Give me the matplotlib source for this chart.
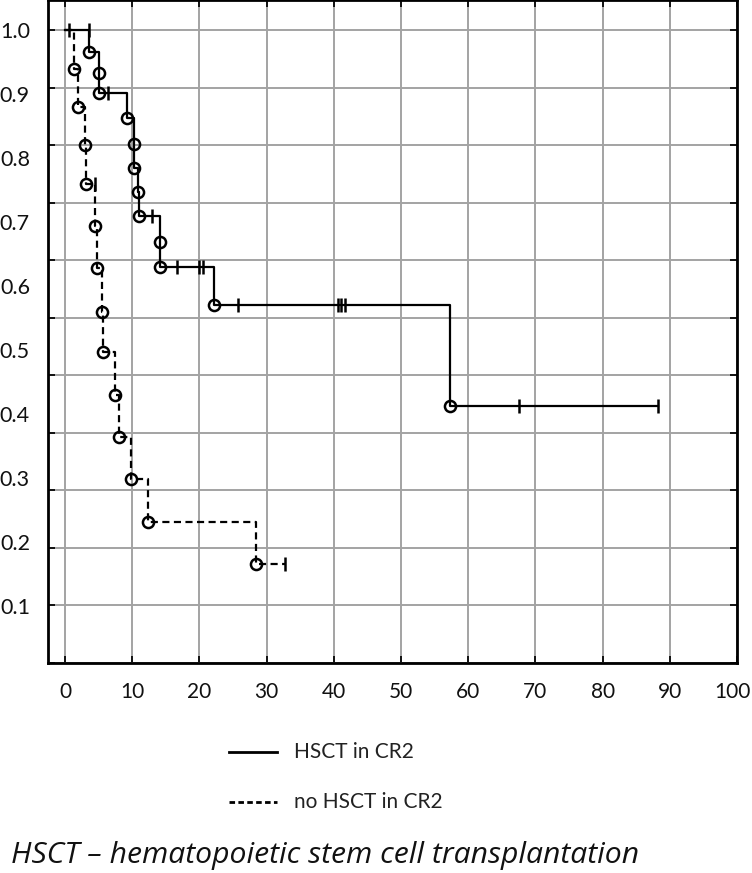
import matplotlib
matplotlib.use("Agg")
import matplotlib.pyplot as plt
from matplotlib.transforms import ScaledTranslation
import numpy as np

plt.rcParams['font.family'] = ['Lato', 'DejaVu Sans']

# HSCT in CR2 (solid): event times / survival after each event
hsct_t = [0, 3.6, 5.0, 5.0, 9.2, 10.2, 10.2, 10.8, 11.0, 14.1, 14.1, 22.1, 57.3]
hsct_s = [1.0, 0.965, 0.933, 0.901, 0.862, 0.822, 0.784, 0.747, 0.709, 0.669, 0.629, 0.570, 0.4125]
hsct_cens_t = [3.6, 6.4, 13.0, 16.6, 20.0, 20.5, 25.7, 40.6, 41.0, 41.7, 67.5, 88.3]
hsct_cens_s = [1.0, 0.901, 0.709, 0.629, 0.629, 0.629, 0.570, 0.570, 0.570, 0.570, 0.4125, 0.4125]

# no HSCT in CR2 (dashed)
no_t = [0, 1.4, 1.9, 3.0, 3.1, 4.5, 4.7, 5.5, 5.7, 7.5, 8.1, 9.8, 12.3, 28.4]
no_s = [1.0, 0.939, 0.879, 0.821, 0.759, 0.694, 0.628, 0.560, 0.497, 0.430, 0.364, 0.298, 0.232, 0.165]
no_cens_t = [0.6, 4.4, 32.7]
no_cens_s = [1.0, 0.759, 0.165]

xticks = [0, 10, 20, 30, 40, 50, 60, 70, 80, 90, 100]
ylabels = [0.1, 0.2, 0.3, 0.4, 0.5, 0.6, 0.7, 0.8, 0.9, 1.0]

fig = plt.figure(figsize=(7.52, 8.73), dpi=100)
ax = fig.add_axes([48 / 752, 1 - 663 / 873, 689 / 752, 663 / 873])

ymin, ymax = 0.0109, 1.0469
ax.set_xlim(-2.53, 100)
ax.set_ylim(ymin, ymax)

lw = 1.6
curves = [
    (hsct_t, hsct_s, hsct_cens_t, hsct_cens_s, '-', 'HSCT in CR2'),
    (no_t, no_s, no_cens_t, no_cens_s, '--', 'no HSCT in CR2'),
]
handles = []
for t, s, ct, cs, ls, lab in curves:
    tt = list(t) + [max(ct)]
    ss = list(s) + [s[-1]]
    line, = ax.step(tt, ss, where='post', color='black', lw=lw, ls=ls, zorder=3)
    if ls == '--':
        line.set_dashes((3.2, 2.0))
    ax.plot(t[1:], s[1:], 'o', ms=8, mfc='none', mec='black', mew=1.8, zorder=4)
    ax.plot(ct, cs, '|', ms=10, mec='black', mew=1.8, zorder=4)
    handles.append((line, lab))

# grid (11 equal divisions vertically, 10-unit steps horizontally)
ax.yaxis.remove_overlapping_locs = False
ax.set_xticks(xticks)
ax.set_yticks(np.linspace(ymin, 1.0, 12))
ax.set_yticklabels([])
ax.set_yticks(ylabels, minor=True)
ax.set_yticklabels([f"{v:.1f}" for v in ylabels], minor=True)
ax.grid(True, which='major', color='#a3a3a3', lw=1.4, zorder=0)
ax.set_axisbelow(True)

ax.tick_params(which='major', direction='in', length=5, width=1.4,
               top=True, right=True, labelsize=15, pad=14, colors='#111111')
ax.tick_params(which='minor', axis='y', length=0, labelsize=15.5, pad=13, colors='#111111')
for sp in ax.spines.values():
    sp.set_linewidth(2)

# keep the "100" label inside the figure
last = ax.get_xticklabels()[-1]
last.set_transform(last.get_transform() + ScaledTranslation(-3 / 72, 0, fig.dpi_scale_trans))

# legend below the plot
for i, (line, lab) in enumerate(handles):
    yy = 1 - (752 + 50 * i) / 873
    l = matplotlib.lines.Line2D([229 / 752, 277 / 752], [yy, yy], transform=fig.transFigure,
                                color='black', lw=2, ls=line.get_linestyle())
    if i == 1:
        l.set_dashes((2.0, 1.2))
    fig.add_artist(l)
    fig.text(294 / 752, yy, lab, fontsize=15, va='center', ha='left', color='#222222')

fig.text(11 / 752, 1 - 856 / 873, "HSCT \u2013 hematopoietic stem cell transplantation",
         fontsize=21.7, style='italic', va='center', ha='left', color='#111111',
         family=['Open Sans', 'DejaVu Sans'])

fig.savefig("out.png", dpi=100)
